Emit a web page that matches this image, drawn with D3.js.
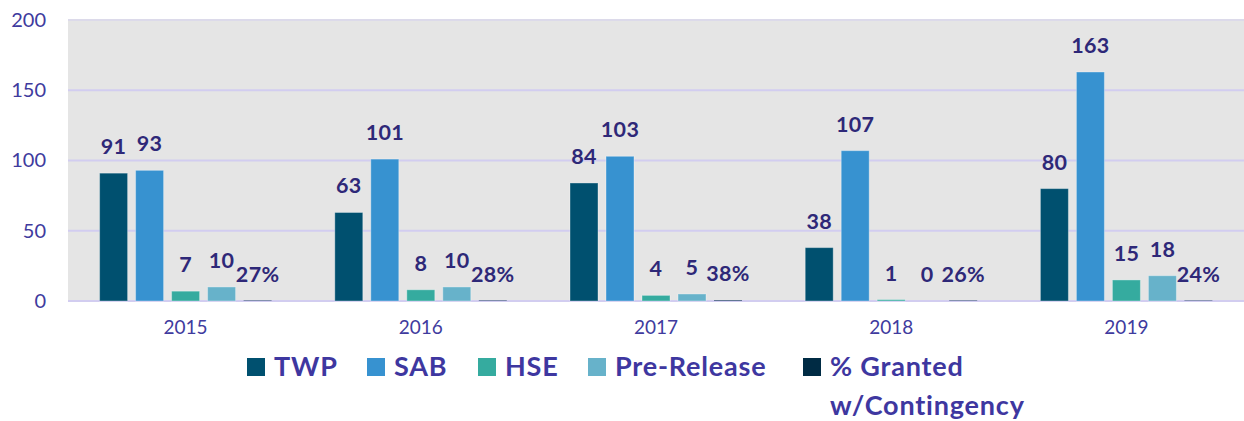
<!DOCTYPE html>
<html><head><meta charset="utf-8">
<script src="https://cdn.jsdelivr.net/npm/d3@7/dist/d3.min.js"></script>
<style>body{margin:0;background:#fff}svg{display:block}</style>
</head><body><svg id="c" width="1244" height="421"></svg>
<script>
const years = ["2015","2016","2017","2018","2019"];
const seriesNames = ["TWP","SAB","HSE","Pre-Release","% Granted w/Contingency"];
const twp = [91,63,84,38,80];
const sab = [93,101,103,107,163];
const hse = [7,8,4,1,15];
const preRelease = [10,10,5,0,18];
const granted = [0.27,0.28,0.38,0.26,0.24];
const yTicks = [0,50,100,150,200];
const colors = ["#00506f","#3792d0","#35ab9f","#67b2ca","#002b44"];

const series = [twp,sab,hse,preRelease,granted];
const svg = d3.select("#c");
const m = {l:68,r:0,t:19,b:120};
const W = 1244, H = 421;
const x0 = d3.scaleBand().domain(years).range([m.l, W-m.r]).paddingInner(0).paddingOuter(0);
const groupW = 172;
const x1 = d3.scaleBand().domain(seriesNames).range([0, groupW]).paddingInner(8/36).paddingOuter(0);
const y = d3.scaleLinear().domain([0,200]).range([301, 20]);

svg.append("rect").attr("x",m.l).attr("y",m.t).attr("width",W-m.l-m.r).attr("height",301-m.t).attr("fill","#e5e5e5");

svg.append("g").selectAll("line").data(yTicks).join("line")
  .attr("x1",m.l).attr("x2",W-m.r).attr("y1",d=>y(d)).attr("y2",d=>y(d))
  .attr("stroke",d=>d===200?"#dcdaea":"#d2cdf0").attr("stroke-width",2);

const yAxis = svg.append("g").attr("transform",`translate(${m.l},0)`).call(d3.axisLeft(y).tickValues(yTicks).tickSize(0).tickPadding(22));
yAxis.select(".domain").remove();
yAxis.selectAll("text").attr("fill","#403b9e").style("font","20px Lato");

const xAxis = svg.append("g").attr("transform",`translate(0,301)`).call(d3.axisBottom(x0).tickSize(0).tickPadding(20));
xAxis.select(".domain").remove();
xAxis.selectAll("text").attr("fill","#403b9e").style("font","19px Lato");

const g = svg.append("g");
years.forEach((yr,i)=>{
  const gx = x0(yr) + x0.bandwidth()/2 - groupW/2;
  seriesNames.forEach((s,j)=>{
    const v = series[j][i];
    const bx = gx + x1(s);
    g.append("rect").attr("x",bx).attr("y",y(v)).attr("width",x1.bandwidth()).attr("height",y(0)-y(v))
      .attr("fill",colors[j]).attr("stroke",v>=1?"rgba(255,255,255,0.35)":"none").attr("stroke-width",1);
    const lbl = j===4 ? Math.round(v*100)+"%" : String(v);
    g.append("text").attr("x",bx+x1.bandwidth()/2).attr("y",y(v)-19).attr("text-anchor","middle")
      .attr("fill","#2e2878").style("font","bold 21.5px Lato").style("letter-spacing","0.3px").text(lbl);
  });
});

const legX = [247,367,478,588,803];
const leg = svg.append("g");
seriesNames.forEach((s,j)=>{
  leg.append("rect").attr("x",legX[j]).attr("y",358).attr("width",18).attr("height",18).attr("fill",colors[j]);
  const t = leg.append("text").attr("x",legX[j]+27).attr("y",376).attr("fill","#3e37a0")
    .style("font","bold 27px Lato").style("letter-spacing","0.8px");
  if(j===4){
    t.append("tspan").attr("x",legX[j]+27).attr("y",376).text("% Granted");
    t.append("tspan").attr("x",legX[j]+27).attr("y",415).text("w/Contingency");
  } else t.text(s);
});
</script></body></html>
